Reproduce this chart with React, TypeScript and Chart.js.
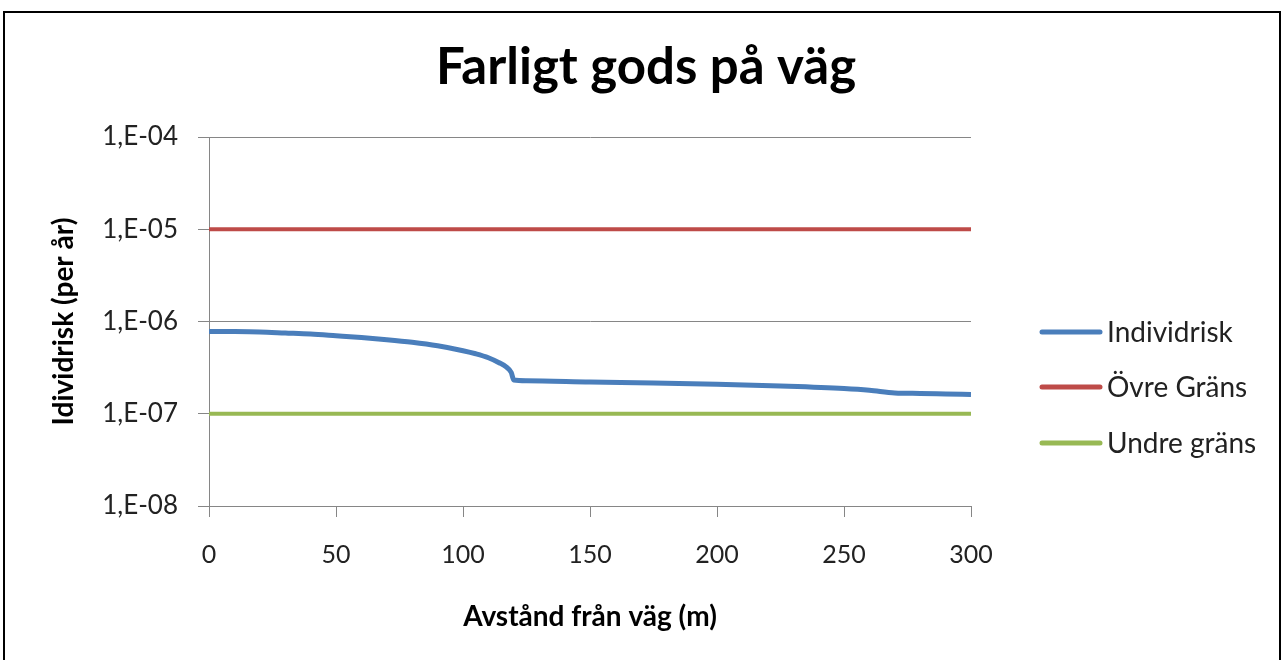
import React, { useEffect, useRef } from 'react';
import { Chart, registerables } from 'chart.js';

Chart.register(...registerables);

// ---- data ----
const chartTitle = 'Farligt gods på väg';
const xAxisTitle = 'Avstånd från väg (m)';
const yAxisTitle = 'Idividrisk (per år)';

const distances = [0, 10, 20, 30, 40, 50, 60, 70, 80, 90, 100, 105, 110, 114, 117, 119, 120, 125, 150, 175, 200, 225, 250, 260, 270, 280, 290, 300];
const individrisk = [7.8e-7, 7.78e-7, 7.7e-7, 7.5e-7, 7.3e-7, 7.0e-7, 6.7e-7, 6.35e-7, 5.95e-7, 5.45e-7, 4.82e-7, 4.47e-7, 4.05e-7, 3.6e-7, 3.22e-7, 2.8e-7, 2.32e-7, 2.28e-7, 2.21e-7, 2.16e-7, 2.09e-7, 2.0e-7, 1.88e-7, 1.8e-7, 1.68e-7, 1.66e-7, 1.64e-7, 1.62e-7];

const limitDistances = [0, 300];
const ovreGrans = [1e-5, 1e-5];
const undreGrans = [1e-7, 1e-7];

const seriesNames = ['Individrisk', 'Övre Gräns', 'Undre gräns'];
const seriesColors = ['#4A7EBB', '#BE4B48', '#98B954'];

const xTickValues = [0, 50, 100, 150, 200, 250, 300];
const yTickValues = [1e-8, 1e-7, 1e-6, 1e-5, 1e-4];
const yTickLabels = ['1,E-08', '1,E-07', '1,E-06', '1,E-05', '1,E-04'];

const FONT = 'Lato, "Liberation Sans", sans-serif';

const overlayPlugin = {
  id: 'overlay',
  afterDraw(chart: any) {
    const ctx = chart.ctx;
    ctx.save();
    // title
    ctx.fillStyle = '#000';
    ctx.font = `bold 51px ${FONT}`;
    ctx.textAlign = 'center';
    ctx.textBaseline = 'alphabetic';
    ctx.fillText(chartTitle, 646, 84);
    // legend
    const rows = [332, 387, 443];
    ctx.font = `28px ${FONT}`;
    ctx.textAlign = 'left';
    ctx.textBaseline = 'middle';
    seriesNames.forEach((name, i) => {
      ctx.strokeStyle = seriesColors[i];
      ctx.lineWidth = 5;
      ctx.lineCap = 'round';
      ctx.beginPath();
      ctx.moveTo(1042, rows[i]);
      ctx.lineTo(1100, rows[i]);
      ctx.stroke();
      ctx.fillStyle = '#222';
      ctx.fillText(name, 1107, rows[i] + 1);
    });
    ctx.restore();
  },
};

export default function App() {
  const ref = useRef<HTMLCanvasElement>(null);

  useEffect(() => {
    if (!ref.current) return;
    const chart = new Chart(ref.current, {
      type: 'line',
      data: {
        datasets: [
          {
            label: seriesNames[0],
            data: distances.map((d, i) => ({ x: d, y: individrisk[i] })),
            borderColor: seriesColors[0],
            borderWidth: 5,
            pointRadius: 0,
            cubicInterpolationMode: 'monotone',
          },
          {
            label: seriesNames[1],
            data: limitDistances.map((d, i) => ({ x: d, y: ovreGrans[i] })),
            borderColor: seriesColors[1],
            borderWidth: 4,
            pointRadius: 0,
          },
          {
            label: seriesNames[2],
            data: limitDistances.map((d, i) => ({ x: d, y: undreGrans[i] })),
            borderColor: seriesColors[2],
            borderWidth: 4,
            pointRadius: 0,
          },
        ],
      },
      options: {
        animation: false,
        responsive: false,
        layout: { padding: { top: 137, right: 314, bottom: 0, left: 0 } },
        plugins: {
          legend: { display: false },
          title: { display: false },
          tooltip: { enabled: false },
        },
        scales: {
          x: {
            type: 'linear',
            min: 0,
            max: 300,
            afterBuildTicks: (s: any) => {
              s.ticks = xTickValues.map((v) => ({ value: v }));
            },
            afterFit: (s: any) => {
              s.height = 154;
            },
            grid: { drawOnChartArea: false, color: '#868686', tickLength: 11, lineWidth: 1 },
            border: { color: '#868686', width: 1 },
            ticks: { font: { family: FONT, size: 25 }, color: '#222', padding: 23, maxRotation: 0 },
            title: {
              display: true,
              text: xAxisTitle,
              font: { family: FONT, size: 28, weight: 'bold' },
              color: '#000',
              padding: { top: 0, bottom: 26 },
            },
          },
          y: {
            type: 'logarithmic',
            min: 1e-8,
            max: 1e-4,
            afterBuildTicks: (s: any) => {
              s.ticks = yTickValues.map((v) => ({ value: v }));
            },
            afterFit: (s: any) => {
              s.width = 209;
            },
            grid: { color: '#868686', tickLength: 11, lineWidth: 1 },
            border: { color: '#868686', width: 1 },
            ticks: {
              font: { family: FONT, size: 26 },
              color: '#222',
              padding: 20,
              callback: (v: any) => {
                const i = yTickValues.findIndex((t) => Math.abs(Math.log10(t) - Math.log10(v)) < 1e-6);
                return i >= 0 ? yTickLabels[i] : '';
              },
            },
            title: {
              display: true,
              text: yAxisTitle,
              font: { family: FONT, size: 28, weight: 'bold' },
              color: '#000',
              padding: { top: 47, bottom: 0 },
            },
          },
        },
      },
      plugins: [overlayPlugin],
    } as any);
    return () => chart.destroy();
  }, []);

  return (
    <div style={{ position: 'fixed', left: 0, top: 0, width: 1285, height: 660, overflow: 'hidden', background: '#fff' }}>
      <canvas ref={ref} width={1285} height={660} style={{ position: 'absolute', left: 0, top: 0, display: 'block' }} />
      <div
        style={{
          position: 'absolute',
          left: 3,
          top: 11,
          width: 1278,
          height: 700,
          border: '2px solid #000',
          boxSizing: 'border-box',
          pointerEvents: 'none',
        }}
      />
    </div>
  );
}
